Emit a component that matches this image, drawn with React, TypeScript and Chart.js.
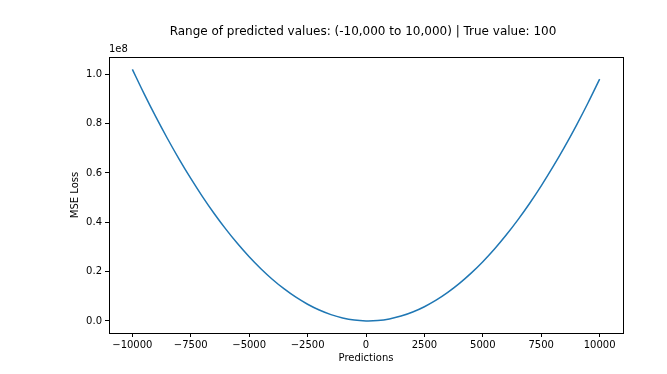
import React, { useEffect, useRef } from "react";
import { Chart, registerables } from "chart.js";

Chart.register(...registerables);

// Predictions (x) and MSE loss (in units of 1e8)
const predictions = [
  -10000, -9500, -9000, -8500, -8000, -7500, -7000, -6500, -6000, -5500, -5000,
  -4500, -4000, -3500, -3000, -2500, -2000, -1500, -1000, -500, 0, 100, 500,
  1000, 1500, 2000, 2500, 3000, 3500, 4000, 4500, 5000, 5500, 6000, 6500, 7000,
  7500, 8000, 8500, 9000, 9500, 10000,
];
const mseLoss = [
  1.0201, 0.9216, 0.8281, 0.7396, 0.6561, 0.5776, 0.5041, 0.4356, 0.3721,
  0.3136, 0.2601, 0.2116, 0.1681, 0.1296, 0.0961, 0.0676, 0.0441, 0.0256,
  0.0121, 0.0036, 0.0001, 0.0, 0.0016, 0.0081, 0.0196, 0.0361, 0.0576, 0.0841,
  0.1156, 0.1521, 0.1936, 0.2401, 0.2916, 0.3481, 0.4096, 0.4761, 0.5476,
  0.6241, 0.7056, 0.7921, 0.8836, 0.9801,
];
const xTicks = [-10000, -7500, -5000, -2500, 0, 2500, 5000, 7500, 10000];
const yTicks = [0.0, 0.2, 0.4, 0.6, 0.8, 1.0];

const titleText = "Range of predicted values: (-10,000 to 10,000) | True value: 100";
const xTitle = "Predictions";
const yTitle = "MSE Loss";
const yOffsetText = "1e8";

const FONT = "DejaVu Sans";

export default function App() {
  const ref = useRef<HTMLCanvasElement | null>(null);

  useEffect(() => {
    document.body.style.margin = "0";
    const canvas = ref.current;
    if (!canvas) return;

    const decor = {
      id: "decor",
      afterDraw(chart: any) {
        const { ctx, chartArea } = chart;
        const { left, right, top, bottom } = chartArea;
        ctx.save();
        ctx.strokeStyle = "#000";
        ctx.lineWidth = 1;
        ctx.strokeRect(Math.round(left) + 0.5, Math.round(top) + 0.5, Math.round(right - left), Math.round(bottom - top));
        ctx.fillStyle = "#000";
        ctx.font = `12px "${FONT}"`;
        ctx.textAlign = "center";
        ctx.textBaseline = "middle";
        ctx.fillText(titleText, (left + right) / 2 - 3, 32);
        ctx.font = `10px "${FONT}"`;
        ctx.fillText(xTitle, (left + right) / 2, 358);
        ctx.textAlign = "left";
        ctx.fillText(yOffsetText, left, 49);
        ctx.translate(75, (top + bottom) / 2);
        ctx.rotate(-Math.PI / 2);
        ctx.textAlign = "center";
        ctx.fillText(yTitle, 0, 0);
        ctx.restore();
      },
    };

    const chart = new Chart(canvas, {
      type: "line",
      data: {
        datasets: [
          {
            data: predictions.map((x, i) => ({ x, y: mseLoss[i] })),
            borderColor: "#1f77b4",
            borderWidth: 1.5,
            pointRadius: 0,
            cubicInterpolationMode: "monotone",
            fill: false,
          },
        ],
      },
      options: {
        animation: false,
        responsive: false,
        devicePixelRatio: 1,
        layout: { padding: { left: 0, right: 44, top: 57, bottom: 0 } },
        plugins: { legend: { display: false }, title: { display: false }, tooltip: { enabled: false } },
        scales: {
          x: {
            type: "linear",
            min: -11000,
            max: 11000,
            afterFit(scale: any) {
              scale.height = 41;
            },
            afterBuildTicks(scale: any) {
              scale.ticks = xTicks.map((v) => ({ value: v }));
            },
            grid: { display: true, drawOnChartArea: false, drawTicks: true, tickLength: 4, tickColor: "#000", color: "#000" },
            border: { display: true, color: "#000" },
            ticks: {
              color: "#000",
              padding: 2,
              maxRotation: 0,
              autoSkip: false,
              font: { family: FONT, size: 10 },
              callback: (v: any) => (Number(v) < 0 ? "\u2212" + Math.abs(Number(v)) : String(v)),
            },
          },
          y: {
            type: "linear",
            min: -0.049,
            max: 1.07,
            afterFit(scale: any) {
              scale.width = 109;
            },
            afterBuildTicks(scale: any) {
              scale.ticks = yTicks.map((v) => ({ value: v }));
            },
            grid: { display: true, drawOnChartArea: false, drawTicks: true, tickLength: 4, tickColor: "#000", color: "#000" },
            border: { display: true, color: "#000" },
            ticks: {
              color: "#000",
              padding: 3,
              autoSkip: false,
              font: { family: FONT, size: 10 },
              callback: (v: any) => Number(v).toFixed(1),
            },
          },
        },
      },
      plugins: [decor],
    } as any);

    return () => chart.destroy();
  }, []);

  return (
    <div style={{ width: 667, height: 374, background: "#fff" }}>
      <canvas ref={ref} width={667} height={374} style={{ display: "block", width: 667, height: 374 }} />
    </div>
  );
}
